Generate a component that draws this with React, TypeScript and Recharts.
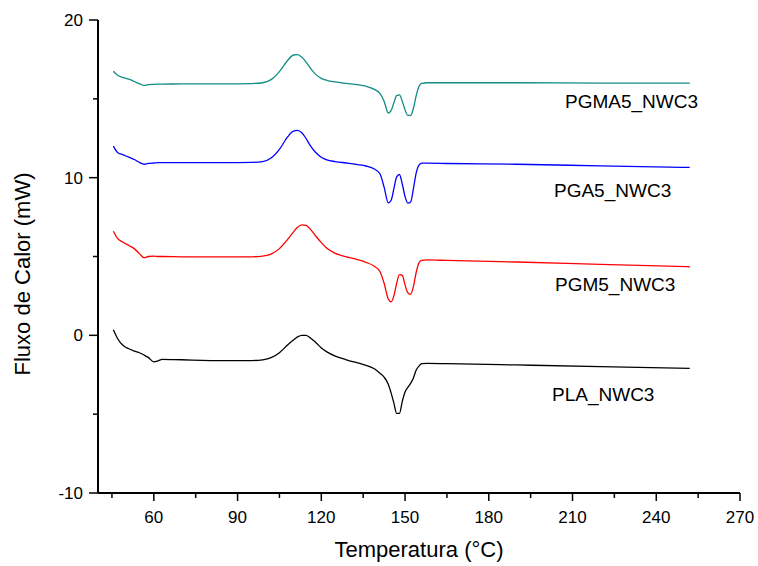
import React from 'react';
import { LineChart, Line, XAxis, YAxis } from 'recharts';

// temperature grid (°C) shared by the four DSC curves
const temps = [
  45.5, 47, 49, 51, 53, 55, 56.5, 58, 60, 61.5, 63, 70, 85, 95, 99, 102, 105, 108, 110, 111.5,
  113, 114.5, 116, 118, 120, 122, 125, 129, 133, 136, 139, 141, 142.5, 144, 145, 146, 147, 148, 149, 150, 151,
  152, 153, 154, 155, 156, 158, 165, 190, 220, 252,
];

const pgma5 = [
  16.75, 16.5, 16.35, 16.25, 16.1, 15.95, 15.85, 15.9, 15.92, 15.93, 15.93, 15.95, 15.95, 15.97, 16.02, 16.22, 16.73, 17.45, 17.78, 17.81,
  17.65, 17.34, 16.97, 16.55, 16.3, 16.17, 16.07, 15.98, 15.9, 15.8, 15.6, 15.35, 14.85, 14.1, 14.25, 14.75, 15.2, 15.25, 14.85, 14.3, 13.95,
  13.95, 14.4, 15.2, 15.8, 15.98, 16.02, 16.02, 16.02, 16.0, 16.0,
];

const pga5 = [
  12.0, 11.6, 11.45, 11.3, 11.15, 10.95, 10.85, 10.9, 10.93, 10.95, 10.95, 10.95, 10.95, 10.97, 11.02, 11.25, 11.8, 12.6, 12.95, 13.0,
  12.85, 12.5, 12.05, 11.6, 11.3, 11.13, 11.02, 10.93, 10.83, 10.74, 10.55, 10.25, 9.4, 8.4, 8.55, 9.3, 10.05, 10.2, 9.6, 8.8, 8.38,
  8.45, 9.3, 10.3, 10.8, 10.92, 10.92, 10.9, 10.85, 10.75, 10.65,
];

const pgm5 = [
  6.6, 6.15, 5.9, 5.7, 5.5, 5.15, 4.92, 5.0, 5.02, 5.0, 5.0, 4.98, 4.97, 4.98, 5.03, 5.15, 5.5, 6.1, 6.55, 6.85,
  7.0, 6.97, 6.75, 6.3, 5.88, 5.52, 5.2, 4.98, 4.8, 4.63, 4.38, 4.05, 3.3, 2.3, 2.12, 2.5, 3.3, 3.85, 3.8, 3.2, 2.7,
  2.6, 3.1, 4.0, 4.6, 4.75, 4.78, 4.75, 4.65, 4.5, 4.35,
];

const pla = [
  0.35, -0.2, -0.65, -0.85, -1.0, -1.12, -1.25, -1.4, -1.68, -1.62, -1.52, -1.55, -1.6, -1.6, -1.55, -1.42, -1.1, -0.6, -0.3, -0.1,
  0.0, 0.0, -0.15, -0.45, -0.8, -1.05, -1.32, -1.55, -1.75, -1.9, -2.12, -2.4, -2.65, -3.1, -3.65, -4.3, -4.95, -4.95, -4.2, -3.6, -3.3,
  -3.05, -2.7, -2.2, -1.95, -1.8, -1.78, -1.8, -1.88, -1.98, -2.1,
];

const xTicks = [45, 60, 75, 90, 105, 120, 135, 150, 165, 180, 195, 210, 225, 240, 255, 270];
const yTicks = [-10, -5, 0, 5, 10, 15, 20];

const rows = temps.map((t, i) => ({ t, pgma5: pgma5[i], pga5: pga5[i], pgm5: pgm5[i], pla: pla[i] }));

const font = 'Arial, "Liberation Sans", sans-serif';

function XTick(props: any) {
  const { x, y, payload } = props;
  const major = payload.value % 30 === 0;
  return (
    <g>
      <line x1={x} y1={y} x2={x} y2={y + (major ? 8 : 5)} stroke="#000" strokeWidth={1.5} />
      {major && (
        <text x={x} y={y + 30} textAnchor="middle" fontSize={17} fontFamily={font} fill="#000">
          {payload.value}
        </text>
      )}
    </g>
  );
}

function YTick(props: any) {
  const { x, y, payload } = props;
  const major = payload.value % 10 === 0;
  return (
    <g>
      <line x1={x - (major ? 9 : 5)} y1={y} x2={x} y2={y} stroke="#000" strokeWidth={1.5} />
      {major && (
        <text x={x - 15} y={y + 6} textAnchor="end" fontSize={17} fontFamily={font} fill="#000">
          {payload.value}
        </text>
      )}
    </g>
  );
}

const labelStyle = { fontSize: 19, fontFamily: font, fill: '#000' };

export default function App() {
  return (
    <div style={{ position: 'absolute', left: 0, top: 0, width: 758, height: 566, background: '#fff' }}>
      <LineChart width={758} height={566} data={rows} margin={{ top: 20, right: 18, bottom: 43, left: 0 }}>
        <XAxis
          dataKey="t"
          type="number"
          domain={[40, 270]}
          ticks={xTicks}
          interval={0}
          height={30}
          tickSize={0}
          tickMargin={0}
          tickLine={false}
          tick={<XTick />}
          axisLine={{ stroke: '#000', strokeWidth: 2 }}
          allowDataOverflow
        />
        <YAxis
          type="number"
          domain={[-10, 20]}
          ticks={yTicks}
          interval={0}
          width={98}
          tickSize={0}
          tickMargin={0}
          tickLine={false}
          tick={<YTick />}
          axisLine={{ stroke: '#000', strokeWidth: 2 }}
          allowDataOverflow
        />
        <Line type="monotone" dataKey="pgma5" stroke="#108c82" strokeWidth={1.3} dot={false} isAnimationActive={false} />
        <Line type="monotone" dataKey="pga5" stroke="#0000ff" strokeWidth={1.3} dot={false} isAnimationActive={false} />
        <Line type="monotone" dataKey="pgm5" stroke="#ff0000" strokeWidth={1.3} dot={false} isAnimationActive={false} />
        <Line type="monotone" dataKey="pla" stroke="#000000" strokeWidth={1.3} dot={false} isAnimationActive={false} />
        <text x={565} y={108} {...labelStyle}>PGMA5_NWC3</text>
        <text x={554} y={197} {...labelStyle}>PGA5_NWC3</text>
        <text x={555} y={291} {...labelStyle}>PGM5_NWC3</text>
        <text x={552} y={401} {...labelStyle}>PLA_NWC3</text>
        <text x={419} y={557} textAnchor="middle" fontSize={22} fontFamily={font} fill="#000">
          Temperatura (°C)
        </text>
        <text x={30} y={274} transform="rotate(-90, 30, 274)" textAnchor="middle" fontSize={22} fontFamily={font} fill="#000">
          Fluxo de Calor (mW)
        </text>
      </LineChart>
    </div>
  );
}
